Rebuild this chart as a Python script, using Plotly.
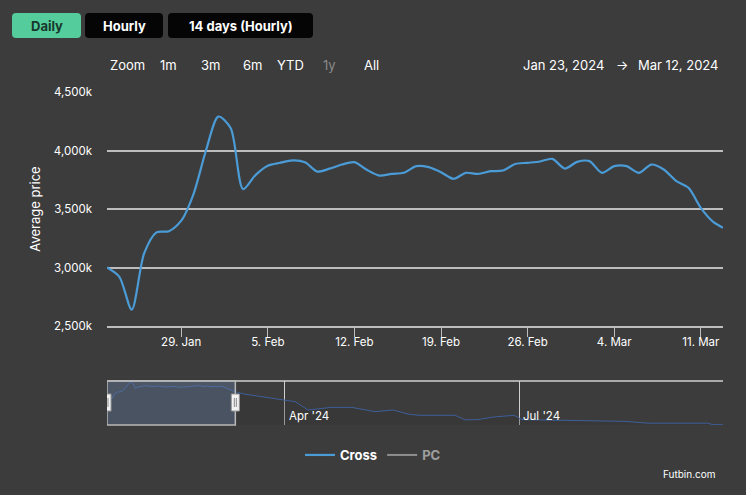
import pandas as pd
import plotly.graph_objects as go

# price history for "Cross", values in thousands of coins
dates = pd.date_range("2024-01-23", "2024-03-12", freq="D").strftime("%Y-%m-%d").tolist() + ["2024-03-12 19:00"]
cross_price = [3000, 2920, 2640, 3120, 3300, 3310, 3400, 3630, 4000, 4290,
               4190, 3670, 3790, 3870, 3895, 3915, 3900, 3820, 3845, 3880,
               3900, 3835, 3786, 3800, 3810, 3866, 3858, 3815, 3758, 3809,
               3800, 3823, 3829, 3885, 3895, 3906, 3929, 3846, 3903, 3909,
               3809, 3866, 3866, 3809, 3880, 3838, 3740, 3681, 3510, 3390,
               3340]

# longer history shown in the navigator strip
nav_dates_tail = ["2024-03-16", "2024-03-22", "2024-04-01", "2024-04-05", "2024-04-10",
                  "2024-04-19", "2024-04-27", "2024-05-06", "2024-05-13", "2024-05-19",
                  "2024-05-23", "2024-06-06", "2024-06-10", "2024-06-15", "2024-06-21",
                  "2024-06-29", "2024-07-02", "2024-07-23", "2024-08-11", "2024-08-20",
                  "2024-09-12", "2024-09-14", "2024-09-18"]
nav_price_tail = [3100, 2870, 2515, 2330, 1500, 1760, 1760, 1330, 1500, 1080,
                  970, 970, 510, 540, 800, 970, 540, 430, 360, 180,
                  180, 40, 30]
nav_dates = dates + nav_dates_tail
nav_price = cross_price + nav_price_tail

y_ticks = [2500, 3000, 3500, 4000, 4500]
y_ticktext = ["2,500k", "3,000k", "3,500k", "4,000k", "4,500k"]
x_tickvals = ["2024-01-29", "2024-02-05", "2024-02-12", "2024-02-19", "2024-02-26", "2024-03-04", "2024-03-11"]
x_ticktext = ["29. Jan", "5. Feb", "12. Feb", "19. Feb", "26. Feb", "4. Mar", "11. Mar"]
nav_tickvals = ["2024-04-01", "2024-07-01"]
nav_ticktext = ["Apr '24", "Jul '24"]

W, H = 746, 495
BG = "#3c3c3c"
FONT = "Inter"


def px(x):
    return x / W


def py(y):
    return 1 - y / H


def rounded(x0, y0, x1, y1, r=4):
    # rounded rectangle path in paper coords, input in pixels
    pts = [
        f"M {px(x0 + r)},{py(y0)}", f"L {px(x1 - r)},{py(y0)}", f"Q {px(x1)},{py(y0)} {px(x1)},{py(y0 + r)}",
        f"L {px(x1)},{py(y1 - r)}", f"Q {px(x1)},{py(y1)} {px(x1 - r)},{py(y1)}",
        f"L {px(x0 + r)},{py(y1)}", f"Q {px(x0)},{py(y1)} {px(x0)},{py(y1 - r)}",
        f"L {px(x0)},{py(y0 + r)}", f"Q {px(x0)},{py(y0)} {px(x0 + r)},{py(y0)}", "Z",
    ]
    return " ".join(pts)


fig = go.Figure()

fig.add_trace(go.Scatter(x=dates, y=cross_price, name="Cross", mode="lines",
                         line=dict(color="#4a9bd6", width=2.2, shape="spline", smoothing=0.8),
                         xaxis="x", yaxis="y"))
fig.add_trace(go.Scatter(x=[None], y=[None], name="PC", mode="lines", visible="legendonly",
                         line=dict(color="#e0e0e0", width=2), xaxis="x", yaxis="y"))
fig.add_trace(go.Scatter(x=nav_dates, y=nav_price, mode="lines", showlegend=False,
                         line=dict(color="#3d5f99", width=1), fill="tozeroy",
                         fillcolor="rgba(50,50,50,0.35)", hoverinfo="skip",
                         xaxis="x2", yaxis="y2"))

plot_x = [px(107), px(723)]

fig.update_layout(
    width=W, height=H,
    paper_bgcolor=BG, plot_bgcolor=BG,
    margin=dict(l=0, r=0, t=0, b=0, pad=0, autoexpand=False),
    font=dict(family=FONT, color="#ffffff", size=12),
    xaxis=dict(domain=plot_x, type="date", range=["2024-01-23", "2024-03-12 19:00"],
               tickvals=x_tickvals, ticktext=x_ticktext, showgrid=False,
               ticks="outside", ticklen=9, tickcolor="#bdbdbd", tickwidth=1,
               showline=True, linecolor="#bdbdbd", linewidth=2, ticklabelstandoff=-5,
               tickfont=dict(size=11.5, color="#ffffff"), anchor="y", zeroline=False),
    yaxis=dict(domain=[py(326), py(92)], range=[2500, 4500], tickvals=y_ticks, ticktext=y_ticktext,
               showgrid=True, gridcolor="#bdbdbd", gridwidth=1.5,
               zeroline=False, ticklabelstandoff=14, tickfont=dict(size=11.5, color="#ffffff"),
               title=dict(text="Average price", font=dict(size=13, color="#ffffff"), standoff=10)),
    xaxis2=dict(domain=plot_x, type="date", range=["2024-01-23", "2024-09-18"],
                tickvals=nav_tickvals, showticklabels=False, showgrid=True,
                gridcolor="#d0d0d0", gridwidth=1, zeroline=False, anchor="y2"),
    yaxis2=dict(domain=[py(425), py(381)], range=[0, 4400], visible=False, fixedrange=True),
    legend=dict(orientation="h", x=0.5, xanchor="center", y=py(440), yanchor="top",
                font=dict(size=13, color="#ffffff", weight="bold"), bgcolor="rgba(0,0,0,0)",
                itemwidth=30),
    showlegend=True,
)

shapes = []
# top buttons
shapes.append(dict(type="path", path=rounded(12, 13, 81, 38), xref="paper", yref="paper",
                   fillcolor="#55cc9c", line=dict(width=0)))
shapes.append(dict(type="path", path=rounded(85, 13, 163, 38), xref="paper", yref="paper",
                   fillcolor="#050505", line=dict(width=0)))
shapes.append(dict(type="path", path=rounded(168, 13, 313, 38), xref="paper", yref="paper",
                   fillcolor="#050505", line=dict(width=0)))
# navigator top border and selected window
shapes.append(dict(type="line", xref="paper", yref="paper", x0=px(107), x1=px(723),
                   y0=py(381), y1=py(381), line=dict(color="#cfcfcf", width=1.5)))
shapes.append(dict(type="rect", xref="x2", yref="paper", x0=dates[0], x1=dates[-1],
                   y0=py(425), y1=py(381), fillcolor="rgba(110,135,175,0.35)",
                   line=dict(color="#b8b8b8", width=1.5), layer="above"))
for d in [dates[0], dates[-1]]:
    shapes.append(dict(type="rect", xref="x2", yref="paper", xsizemode="pixel", xanchor=d,
                       x0=-4, x1=4, y0=py(411), y1=py(394), fillcolor="#f2f2f2",
                       line=dict(color="#999999", width=1), layer="above"))
    shapes.append(dict(type="line", xref="x2", yref="paper", xsizemode="pixel", xanchor=d,
                       x0=-1, x1=-1, y0=py(407), y1=py(398), line=dict(color="#888888", width=1),
                       layer="above"))
    shapes.append(dict(type="line", xref="x2", yref="paper", xsizemode="pixel", xanchor=d,
                       x0=1, x1=1, y0=py(407), y1=py(398), line=dict(color="#888888", width=1),
                       layer="above"))
fig.update_layout(shapes=shapes)

ann = []
ann.append(dict(text="<b>Daily</b>", x=px(46.5), y=py(25.5), font=dict(size=13, color="#17382b")))
ann.append(dict(text="<b>Hourly</b>", x=px(124), y=py(25.5), font=dict(size=13, color="#ffffff")))
ann.append(dict(text="<b>14 days (Hourly)</b>", x=px(240.5), y=py(25.5), font=dict(size=13, color="#ffffff")))

for label, cx, col in [("Zoom", 127, "#ffffff"), ("1m", 168, "#ffffff"), ("3m", 210, "#ffffff"),
                       ("6m", 252, "#ffffff"), ("YTD", 290, "#ffffff"), ("1y", 329, "#8a8a8a"),
                       ("All", 371, "#ffffff")]:
    ann.append(dict(text=label, x=px(cx), y=py(65), font=dict(size=13, color=col)))

ann.append(dict(text="Jan 23, 2024", x=px(563.5), y=py(65), font=dict(size=13, color="#ffffff")))
ann.append(dict(text="→", x=px(621.5), y=py(65), font=dict(size=13, color="#ffffff")))
ann.append(dict(text="Mar 12, 2024", x=px(678), y=py(65), font=dict(size=13, color="#ffffff")))

for tv, tt in zip(nav_tickvals, nav_ticktext):
    ann.append(dict(text=tt, x=tv, xref="x2", y=py(416), xanchor="left", xshift=2,
                    font=dict(size=11.5, color="#ffffff")))

ann.append(dict(text="Futbin.com", x=px(718), y=py(474), xanchor="right",
                font=dict(size=10, color="#ffffff")))

for a in ann:
    a.setdefault("xref", "paper")
    a.setdefault("yref", "paper")
    a.setdefault("xanchor", "center")
    a.setdefault("yanchor", "middle")
    a["showarrow"] = False
fig.update_layout(annotations=ann)

# drop the page's default body margin so the figure fills the window
fig.write_html("out.html", config={"displayModeBar": False},
               post_script="document.body.style.margin='0px';document.body.style.overflow='hidden';")
